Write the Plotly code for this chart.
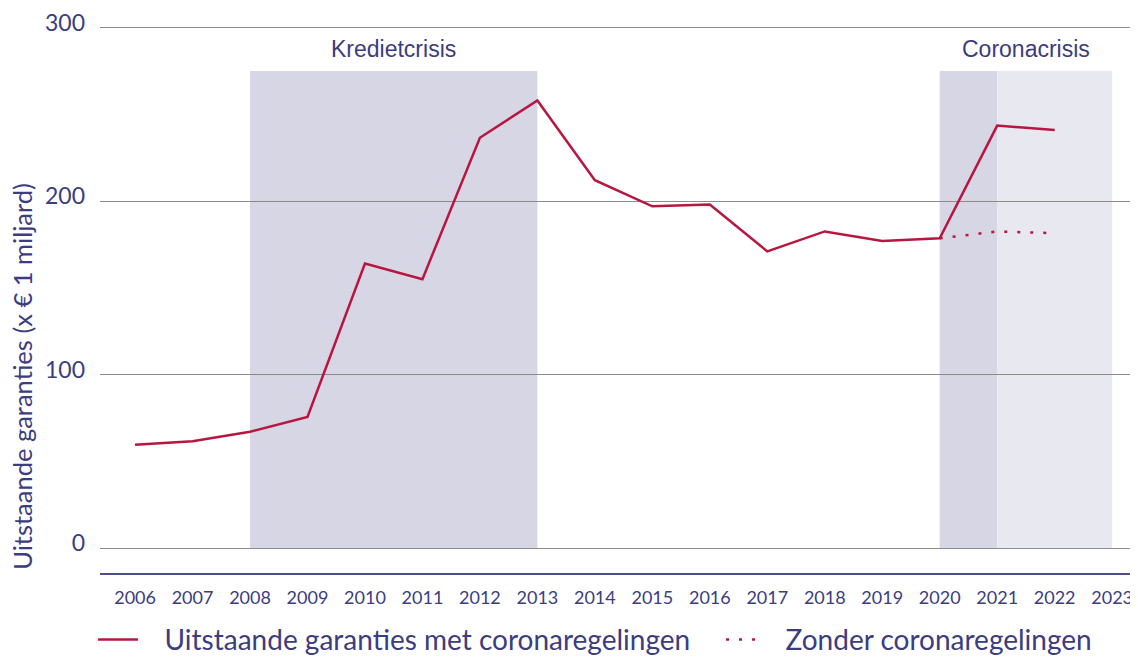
import plotly.graph_objects as go

# --- data ---
years = list(range(2006, 2023))
garanties_met = [59.5, 61.5, 67, 75.5, 164, 155, 236.5, 258, 212, 197, 198,
                 171, 182.5, 177, 178.5, 243.5, 241]
zonder_years = [2020, 2021, 2022]
garanties_zonder = [178.5, 182.5, 181.5]

tick_years = list(range(2006, 2024))
y_ticks = [0, 100, 200, 300]

# crisis periods: (start, end, label)
krediet = (2008, 2013, "Kredietcrisis")
corona_dark = (2020, 2021)
corona_light = (2021, 2023)
corona_label = "Coronacrisis"
shade_top = 275

# --- styling ---
TXT = "#3b3d80"
RED = "#b8163f"
FONT = "Lato"
NB = "\u00a0"

fig = go.Figure()

fig.add_trace(go.Scatter(
    x=years, y=garanties_met, mode="lines",
    line=dict(color=RED, width=2.5),
    name=NB * 3 + "Uitstaande garanties met coronaregelingen",
    legend="legend",
))
fig.add_trace(go.Scatter(
    x=zonder_years, y=garanties_zonder, mode="lines",
    line=dict(color=RED, width=2.5, dash="3px,10px"),
    name=NB * 3 + "Zonder coronaregelingen",
    legend="legend2",
))

# --- crisis shading ---
fig.add_shape(type="rect", xref="x", yref="y", x0=krediet[0], x1=krediet[1],
              y0=0, y1=shade_top, fillcolor="#d6d6e5", line_width=0, layer="below")
fig.add_shape(type="rect", xref="x", yref="y", x0=corona_dark[0], x1=corona_dark[1],
              y0=0, y1=shade_top, fillcolor="#d6d6e5", line_width=0, layer="below")
fig.add_shape(type="rect", xref="x", yref="y", x0=corona_light[0], x1=corona_light[1],
              y0=0, y1=shade_top, fillcolor="#e8e8f0", line_width=0, layer="below")

fig.add_annotation(x=(krediet[0] + krediet[1]) / 2, y=287.5, text=krediet[2],
                   showarrow=False, font=dict(family="Liberation Sans", size=23, color=TXT))
fig.add_annotation(x=(corona_dark[0] + corona_light[1]) / 2, y=287.5, text=corona_label,
                   showarrow=False, font=dict(family="Liberation Sans", size=23, color=TXT))

# y-axis title, placed lower than centre as in the original
fig.add_annotation(xref="paper", yref="paper", x=-0.0751, y=0.358,
                   xanchor="center", yanchor="middle",
                   text="Uitstaande garanties (x € 1 miljard)", textangle=-90,
                   showarrow=False, font=dict(family=FONT, size=25.5, color=TXT))

fig.update_xaxes(
    range=[2005.39, 2023.45], tickvals=tick_years, ticktext=[str(y) for y in tick_years],
    showgrid=False, zeroline=False, showline=True, linecolor="#4b4e8c", linewidth=2,
    tickfont=dict(family=FONT, size=18, color=TXT), ticklabelstandoff=7,
    automargin=False, ticklabeloverflow="allow",
)
fig.update_yaxes(
    range=[-14.4, 301.5], tickvals=y_ticks, showgrid=True, gridcolor="#8c8c8c",
    gridwidth=1.3, zeroline=False, showline=False,
    tickfont=dict(family=FONT, size=23, color=TXT), ticklabelstandoff=14,
    ticklabelshift=-5, automargin=False, ticklabeloverflow="allow",
)

# page body adds an 8px margin, so the figure is 8px smaller than the window
legend_font = dict(family=FONT, size=28, color=TXT)
fig.update_layout(
    width=1130, height=650,
    margin=dict(l=92, r=0, t=17, b=85, autoexpand=False),
    plot_bgcolor="white", paper_bgcolor="white",
    showlegend=True,
    legend=dict(orientation="h", x=-0.0067, xanchor="left", y=-0.122, yanchor="middle",
                font=legend_font, itemwidth=40, bgcolor="rgba(0,0,0,0)"),
    legend2=dict(orientation="h", x=0.5983, xanchor="left", y=-0.122, yanchor="middle",
                 font=legend_font, itemwidth=33, bgcolor="rgba(0,0,0,0)"),
)

fig.write_html("out.html")
